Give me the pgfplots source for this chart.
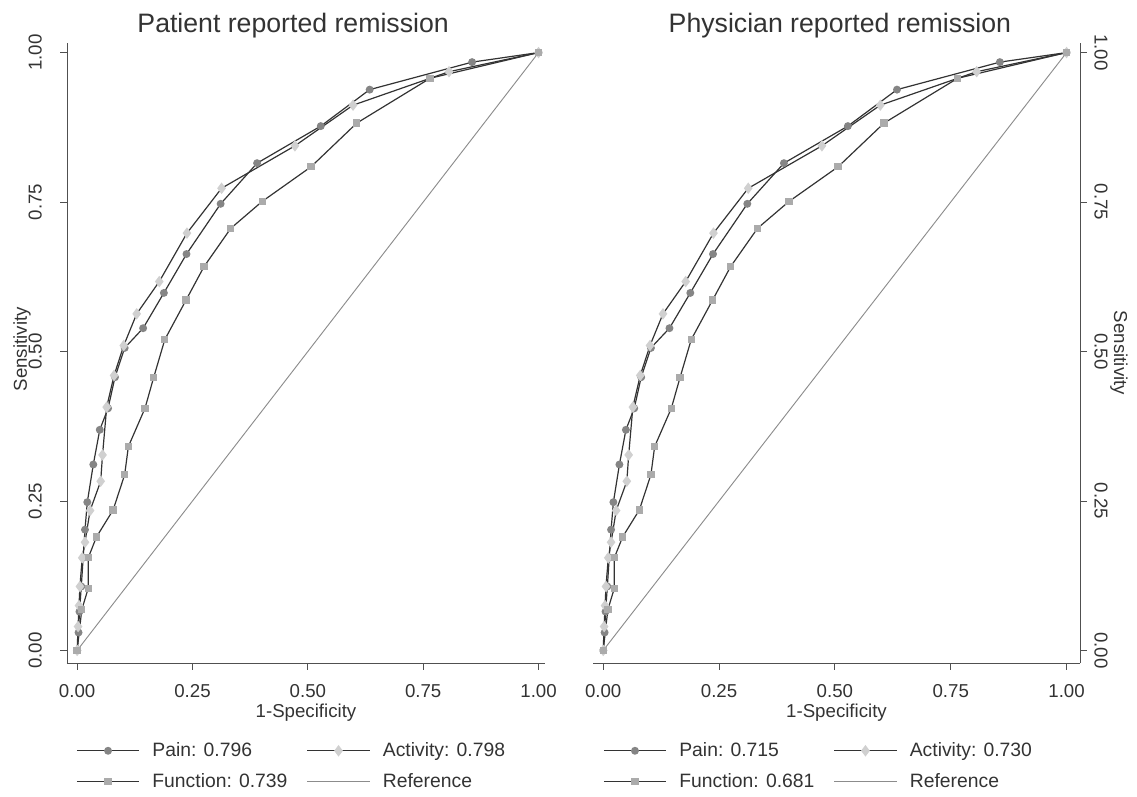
\documentclass[border=0pt]{standalone}
\usepackage{fontspec}
\setmainfont{Liberation Sans}
\usepackage{pgfplots}
\usepackage{pgfplotstable}
\pgfplotsset{compat=1.18}

\definecolor{curve}{HTML}{333333}
\definecolor{painc}{HTML}{858585}
\definecolor{actc}{HTML}{D0D0D0}
\definecolor{funcc}{HTML}{ABABAB}
\definecolor{refc}{HTML}{8C8C8C}
\definecolor{axisc}{HTML}{505050}
\definecolor{txt}{HTML}{333333}

% ROC points (1-specificity, sensitivity)
\pgfplotstableread{
fpr tpr
0 0
0.003 0.030
0.005 0.065
0.009 0.107
0.013 0.155
0.017 0.202
0.022 0.248
0.035 0.311
0.049 0.369
0.067 0.405
0.082 0.457
0.103 0.506
0.143 0.539
0.188 0.598
0.237 0.663
0.311 0.747
0.390 0.815
0.528 0.877
0.634 0.938
0.856 0.984
1 1
}\pain

\pgfplotstableread{
fpr tpr
0 0
0.002 0.040
0.004 0.075
0.006 0.107
0.011 0.155
0.017 0.181
0.028 0.234
0.051 0.283
0.055 0.327
0.064 0.407
0.080 0.460
0.101 0.510
0.129 0.563
0.178 0.617
0.238 0.698
0.313 0.773
0.472 0.844
0.598 0.912
0.806 0.968
1 1
}\activity

\pgfplotstableread{
fpr tpr
0 0
0.010 0.068
0.024 0.104
0.024 0.155
0.042 0.190
0.078 0.235
0.103 0.294
0.111 0.341
0.147 0.405
0.166 0.457
0.190 0.520
0.236 0.586
0.275 0.642
0.333 0.706
0.401 0.751
0.507 0.809
0.606 0.882
0.765 0.957
1 1
}\function

\pgfplotsset{
  roc/.style={
    scale only axis, height=465pt,
    ymin=-0.021, ymax=1.016,
    xtick={0,0.25,0.5,0.75,1}, ytick={0,0.25,0.5,0.75,1},
    xticklabels={0.00,0.25,0.50,0.75,1.00},
    yticklabels={0.00,0.25,0.50,0.75,1.00},
    tick align=outside, major tick length=5pt,
    major tick style={axisc, line width=0.6pt},
    axis line style={axisc, line width=0.6pt},
    tick label style={font=\fontsize{14}{16}\selectfont, text=txt, inner sep=0pt},
    label style={font=\fontsize{14}{16}\selectfont, text=txt},
    xticklabel style={anchor=north}, xticklabel shift=11pt,
    xlabel={1-Specificity},
    xlabel style={at={(axis description cs:0.5,0)}, anchor=base, yshift=-41pt},
    ylabel={Sensitivity},
    title style={font=\fontsize{20}{24}\selectfont, text=txt, anchor=base, yshift=2pt},
    legend style={draw=none, fill=none, legend columns=2, anchor=north west,
      font=\fontsize{14.5}{16.5}\selectfont, text=txt, inner sep=0pt,
      nodes={inner sep=1.5pt}, row sep=8pt,
      /tikz/every even column/.append style={column sep=13pt},
      /tikz/every odd column/.append style={column sep=8pt}},
    legend cell align=left,
    legend image code/.code={\draw[mark repeat=2,mark phase=2]
      plot coordinates {(0cm,0cm) (0.82cm,0cm) (1.64cm,0cm)};},
    clip=false,
  },
  painst/.style={color=curve, line width=0.9pt, mark=*, mark size=2.5pt,
    mark options={fill=painc, draw=painc}},
  actst/.style={color=curve, line width=0.9pt, mark=diamond*, mark size=3.6pt,
    mark options={fill=actc, draw=actc}},
  funcst/.style={color=curve, line width=0.9pt, mark=square*, mark size=2.3pt,
    mark options={fill=funcc, draw=funcc}},
  refst/.style={color=refc, line width=0.7pt, mark=none},
}

\begin{document}
\begin{tikzpicture}
\useasboundingbox (-50.25pt,-99.75pt) rectangle (802.5pt,497.25pt);

\begin{axis}[roc, width=358.5pt, xmin=-0.022, xmax=1.014,
  axis x line*=bottom, axis y line*=left,
  title={Patient reported remission},
  title style={at={(axis description cs:0.473,1)}},
  yticklabel style={rotate=90, anchor=base}, yticklabel shift=14pt,
  ylabel style={at={(axis description cs:-0.0837,0.506)}, anchor=base},
  legend style={at={(axis description cs:0.019,-0.125)}}]
\addplot[painst] table[x=fpr, y=tpr] {\pain};
\addlegendentry{Pain: 0.796}
\addplot[actst] table[x=fpr, y=tpr] {\activity};
\addlegendentry{Activity: 0.798}
\addplot[funcst] table[x=fpr, y=tpr] {\function};
\addlegendentry{Function: 0.739}
\addplot[refst] coordinates {(0,0) (1,1)};
\addlegendentry{Reference}
\end{axis}

\begin{axis}[roc, at={(394.5pt,0pt)}, anchor=south west,
  width=365.25pt, xmin=-0.022, xmax=1.029,
  axis x line*=bottom, axis y line*=right,
  title={Physician reported remission},
  title style={at={(axis description cs:0.507,1)}},
  yticklabel style={rotate=-90, anchor=base}, yticklabel shift=6pt,
  ylabel style={at={(axis description cs:1.07,0.5)}, rotate=180, anchor=base},
  legend style={at={(axis description cs:0.0205,-0.125)}}]
\addplot[painst] table[x=fpr, y=tpr] {\pain};
\addlegendentry{Pain: 0.715}
\addplot[actst] table[x=fpr, y=tpr] {\activity};
\addlegendentry{Activity: 0.730}
\addplot[funcst] table[x=fpr, y=tpr] {\function};
\addlegendentry{Function: 0.681}
\addplot[refst] coordinates {(0,0) (1,1)};
\addlegendentry{Reference}
\end{axis}
\end{tikzpicture}
\end{document}
